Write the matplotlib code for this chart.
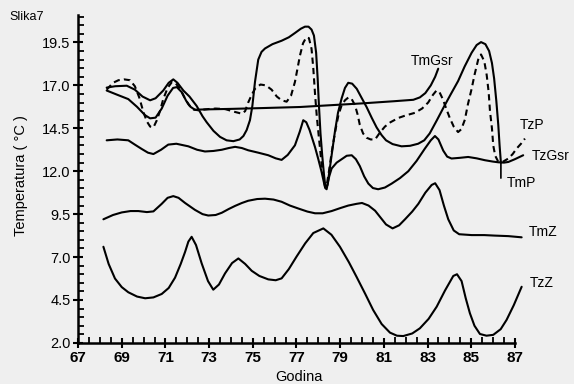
import matplotlib
matplotlib.use('Agg')
import matplotlib.pyplot as plt
from matplotlib.ticker import MultipleLocator

plt.rcParams['font.family'] = ['Liberation Sans', 'DejaVu Sans']

# values (year, temperature in C)
tmgsr_x = [68.31, 68.8, 69.3, 69.7, 70.07, 70.3, 70.55, 70.83, 71.1, 71.35, 71.52, 71.75,
           71.95, 72.15, 72.35, 72.8, 74.0, 75.5, 77.16, 78.5, 80.0, 81.5, 82.35, 82.65,
           82.9, 83.15, 83.35, 83.49]
tmgsr_y = [16.7, 16.45, 16.2, 15.75, 15.26, 15.08, 15.12, 15.65, 16.4, 16.85, 16.9, 16.6,
           16.1, 15.75, 15.58, 15.6, 15.63, 15.68, 15.74, 15.84, 15.95, 16.08, 16.16, 16.3,
           16.55, 17.0, 17.5, 17.97]

tmp_x = [68.31, 68.7, 69.23, 69.6, 69.95, 70.3, 70.55, 70.9, 71.15, 71.36, 71.55, 71.82,
         72.1, 72.43, 72.7, 72.89, 73.2, 73.5, 73.8, 74.11, 74.4, 74.57, 74.72, 74.87,
         74.98, 75.1, 75.25, 75.4, 75.56, 75.9, 76.32, 76.65, 76.93, 77.2, 77.39, 77.55,
         77.69, 77.8, 77.9, 77.97, 78.03, 78.1, 78.18, 78.26, 78.33, 78.42, 78.53, 78.65,
         78.76, 78.9, 79.07, 79.22, 79.37, 79.55, 79.76, 79.95, 80.21, 80.45, 80.67, 80.9,
         81.1, 81.4, 81.81, 82.2, 82.57, 82.85, 83.1, 83.42, 83.75, 84.05, 84.4, 84.7,
         85.02, 85.25, 85.45, 85.65, 85.82, 85.95, 86.05, 86.15, 86.24, 86.3, 86.36]
tmp_y = [16.87, 16.95, 16.98, 16.75, 16.35, 16.13, 16.25, 16.7, 17.15, 17.35, 17.15, 16.7,
         16.35, 15.8, 15.2, 14.85, 14.35, 14.0, 13.8, 13.75, 13.85, 14.05, 14.4, 14.97,
         15.8, 17.2, 18.5, 18.95, 19.15, 19.4, 19.6, 19.8, 20.05, 20.3, 20.42, 20.42,
         20.25, 19.9, 18.9, 17.4, 15.8, 14.2, 12.9, 11.8, 11.0, 11.2, 12.2, 13.3,
         14.3, 15.4, 16.25, 16.85, 17.15, 17.1, 16.8, 16.35, 15.74, 15.1, 14.55, 14.1,
         13.8, 13.58, 13.45, 13.48, 13.6, 13.8, 14.2, 14.95, 15.75, 16.45, 17.25, 18.1,
         18.9, 19.35, 19.52, 19.4, 19.0, 18.3, 17.4, 16.1, 14.7, 13.5, 12.5]

tzp_x = [68.31, 68.6, 68.85, 69.1, 69.38, 69.6, 69.8, 69.99, 70.15, 70.3, 70.45, 70.6,
         70.75, 70.9, 71.1, 71.3, 71.45, 71.67, 71.85, 72.05, 72.25, 72.5, 72.96, 73.3,
         73.73, 74.19, 74.5, 74.65, 74.79, 74.95, 75.1, 75.35, 75.6, 75.86, 76.1, 76.32,
         76.55, 76.75, 76.93, 77.05, 77.16, 77.3, 77.45, 77.57, 77.69, 77.77, 77.85, 77.93,
         78.0, 78.08, 78.15, 78.23, 78.32, 78.4, 78.5, 78.6, 78.69, 78.8, 78.92, 79.07,
         79.22, 79.38, 79.53, 79.68, 79.8, 79.9, 80.05, 80.21, 80.4, 80.6, 80.82, 81.05,
         81.3, 81.66, 82.0, 82.42, 82.75, 83.03, 83.25, 83.41, 83.55, 83.7, 83.87, 84.02,
         84.2, 84.4, 84.55, 84.71, 84.85, 85.02, 85.15, 85.32, 85.45, 85.6, 85.71, 85.8,
         85.86, 85.95, 86.01, 86.1, 86.24, 86.45, 86.7, 86.9, 87.08, 87.28, 87.46]
tzp_y = [16.75, 17.15, 17.3, 17.35, 17.3, 16.95, 16.3, 15.45, 14.9, 14.6, 14.55, 14.95,
         15.5, 16.2, 16.85, 17.2, 17.15, 16.8, 16.35, 15.9, 15.6, 15.55, 15.62, 15.65,
         15.62, 15.45, 15.35, 15.5, 16.0, 16.45, 16.8, 17.05, 17.0, 16.75, 16.35, 16.13,
         16.05, 16.4, 17.2, 18.0, 18.74, 19.45, 19.8, 19.75, 19.13, 18.0, 16.5, 15.2,
         14.3, 13.3, 12.4, 11.6, 11.05, 11.3, 12.1, 13.0, 13.7, 14.5, 15.26, 15.85,
         16.13, 16.3, 16.2, 15.84, 15.3, 14.7, 14.2, 13.95, 13.85, 13.85, 14.25, 14.6,
         14.85, 15.1, 15.25, 15.4, 15.65, 16.0, 16.45, 16.7, 16.6, 16.2, 15.6, 15.1,
         14.6, 14.28, 14.45, 15.0, 15.9, 16.8, 17.6, 18.5, 18.8, 18.4, 17.6, 16.6,
         15.5, 14.5, 13.5, 12.9, 12.55, 12.55, 12.74, 13.0, 13.32, 13.6, 13.9]

tzgsr_x = [68.31, 68.8, 69.3, 69.6, 69.91, 70.2, 70.45, 70.8, 71.13, 71.5, 72.05, 72.45,
           72.81, 73.2, 73.58, 73.9, 74.19, 74.5, 74.79, 75.25, 75.71, 76.05, 76.32, 76.6,
           76.93, 77.15, 77.31, 77.45, 77.6, 77.85, 78.0, 78.15, 78.3, 78.38, 78.5, 78.61,
           78.84, 79.07, 79.3, 79.53, 79.72, 79.9, 80.1, 80.29, 80.5, 80.74, 81.05, 81.36,
           81.74, 82.12, 82.5, 82.88, 83.15, 83.34, 83.5, 83.72, 83.9, 84.1, 84.48, 84.86,
           85.25, 85.63, 86.0, 86.24, 86.5, 86.7, 87.0, 87.38]
tzgsr_y = [13.8, 13.85, 13.8, 13.55, 13.3, 13.08, 13.0, 13.25, 13.55, 13.6, 13.45, 13.25,
           13.15, 13.18, 13.25, 13.35, 13.42, 13.35, 13.22, 13.08, 12.93, 12.75, 12.66, 12.95,
           13.51, 14.3, 14.97, 14.85, 14.4, 13.4, 12.7, 11.96, 11.1, 10.95, 11.7, 12.16,
           12.5, 12.7, 12.9, 12.93, 12.7, 12.3, 11.7, 11.28, 11.02, 10.95, 11.05, 11.28,
           11.6, 12.0, 12.6, 13.32, 13.8, 14.05, 13.85, 13.2, 12.85, 12.74, 12.78, 12.83,
           12.75, 12.64, 12.56, 12.52, 12.5, 12.54, 12.7, 12.93]

tmz_x = [68.16, 68.6, 69.0, 69.4, 69.76, 70.15, 70.45, 70.83, 71.1, 71.36, 71.6, 71.9,
         72.35, 72.7, 72.96, 73.3, 73.58, 73.9, 74.19, 74.5, 74.79, 75.2, 75.56, 75.95,
         76.32, 76.7, 77.08, 77.5, 77.85, 78.2, 78.61, 79.0, 79.37, 79.75, 80.0, 80.3,
         80.6, 80.85, 81.1, 81.4, 81.7, 81.97, 82.3, 82.58, 82.9, 83.19, 83.35, 83.55,
         83.75, 83.95, 84.2, 84.45, 85.02, 85.6, 86.08, 86.7, 87.31]
tmz_y = [9.2, 9.45, 9.6, 9.68, 9.68, 9.62, 9.66, 10.1, 10.45, 10.55, 10.45, 10.15,
         9.75, 9.5, 9.42, 9.45, 9.58, 9.8, 9.98, 10.15, 10.28, 10.38, 10.4, 10.35,
         10.22, 10.0, 9.83, 9.65, 9.55, 9.55, 9.68, 9.85, 10.0, 10.1, 10.15, 10.0,
         9.7, 9.3, 8.9, 8.67, 8.85, 9.2, 9.65, 10.1, 10.75, 11.2, 11.3, 10.9,
         10.0, 9.2, 8.55, 8.33, 8.28, 8.28, 8.25, 8.22, 8.15]

tzz_x = [68.16, 68.4, 68.69, 69.0, 69.3, 69.7, 70.07, 70.45, 70.83, 71.15, 71.44, 71.7,
         71.9, 72.05, 72.2, 72.4, 72.66, 72.95, 73.19, 73.45, 73.73, 74.05, 74.34, 74.65,
         74.95, 75.3, 75.71, 76.05, 76.32, 76.65, 77.0, 77.4, 77.77, 78.23, 78.6, 78.99,
         79.4, 79.75, 80.15, 80.51, 80.9, 81.28, 81.6, 81.89, 82.3, 82.65, 83.05, 83.42,
         83.8, 84.18, 84.35, 84.56, 84.75, 84.94, 85.15, 85.4, 85.7, 86.01, 86.35, 86.62,
         86.95, 87.31]
tzz_y = [7.6, 6.6, 5.75, 5.25, 4.95, 4.7, 4.6, 4.65, 4.85, 5.2, 5.8, 6.6,
         7.3, 7.9, 8.18, 7.7, 6.63, 5.6, 5.1, 5.4, 6.05, 6.65, 6.92, 6.6,
         6.2, 5.9, 5.7, 5.65, 5.76, 6.3, 7.02, 7.8, 8.4, 8.67, 8.3, 7.6,
         6.7, 5.85, 4.85, 3.92, 3.1, 2.6, 2.42, 2.4, 2.55, 2.85, 3.4, 4.11,
         5.05, 5.9, 6.0, 5.6, 4.6, 3.73, 3.0, 2.52, 2.42, 2.47, 2.8, 3.34,
         4.2, 5.27]

bg = '#efefef'
fig = plt.figure(figsize=(5.74, 3.84), dpi=100, facecolor=bg)
ax = fig.add_axes([0.136, 0.107, 0.761, 0.854], facecolor=bg)

lw = 1.5
for xs, ys in [(tmgsr_x, tmgsr_y), (tmp_x, tmp_y), (tzgsr_x, tzgsr_y),
               (tmz_x, tmz_y), (tzz_x, tzz_y)]:
    ax.plot(xs, ys, color='black', lw=lw, clip_on=False,
            solid_joinstyle='round', solid_capstyle='round')
ax.plot(tzp_x, tzp_y, color='black', lw=lw, dashes=(3, 2), clip_on=False)

ax.set_xlim(67, 87)
ax.set_ylim(2.0, 21.1)
ax.spines['top'].set_visible(False)
ax.spines['right'].set_visible(False)
ax.spines['left'].set_linewidth(1.8)
ax.spines['bottom'].set_linewidth(1.8)

ax.xaxis.set_minor_locator(MultipleLocator(0.5))
ax.yaxis.set_minor_locator(MultipleLocator(0.5))
ax.set_xticks(range(67, 88, 2))
ax.set_yticks([2.0, 4.5, 7.0, 9.5, 12.0, 14.5, 17.0, 19.5])
ax.set_yticklabels(['2.0', '4.5', '7.0', '9.5', '12.0', '14.5', '17.0', '19.5'])
ax.tick_params(which='major', direction='inout', length=7, width=1.5)
ax.tick_params(which='minor', direction='in', length=4, width=1.3)
ax.tick_params(axis='x', which='major', pad=2, labelsize=11)
ax.tick_params(axis='y', which='major', pad=2, labelsize=10.5)
for lab in ax.get_xticklabels():
    lab.set_fontweight('bold')

# series labels
ax.text(83.2, 18.4, 'TmGsr', fontsize=10, ha='center', va='center')
ax.text(87.78, 14.67, 'TzP', fontsize=10, ha='center', va='center')
ax.text(88.65, 12.87, 'TzGsr', fontsize=10, ha='center', va='center')
ax.text(87.32, 11.3, 'TmP', fontsize=10, ha='center', va='center')
ax.text(88.28, 8.45, 'TmZ', fontsize=10, ha='center', va='center')
ax.text(88.24, 5.49, 'TzZ', fontsize=10, ha='center', va='center')
ax.annotate('', xy=(tmp_x[-1], tmp_y[-1]), xytext=(tmp_x[-1], 11.6),
            arrowprops=dict(arrowstyle='-', lw=1.2, shrinkA=0, shrinkB=0))

fig.text(0.046, 0.956, 'Slika7', fontsize=9, ha='center', va='center')
fig.text(0.036, 0.542, 'Temperatura ( °C )', fontsize=10.5, rotation=90,
         ha='center', va='center')
fig.text(0.52, 0.019, 'Godina', fontsize=10.5, ha='center', va='center')

fig.savefig('out.png', dpi=100, facecolor=bg)
